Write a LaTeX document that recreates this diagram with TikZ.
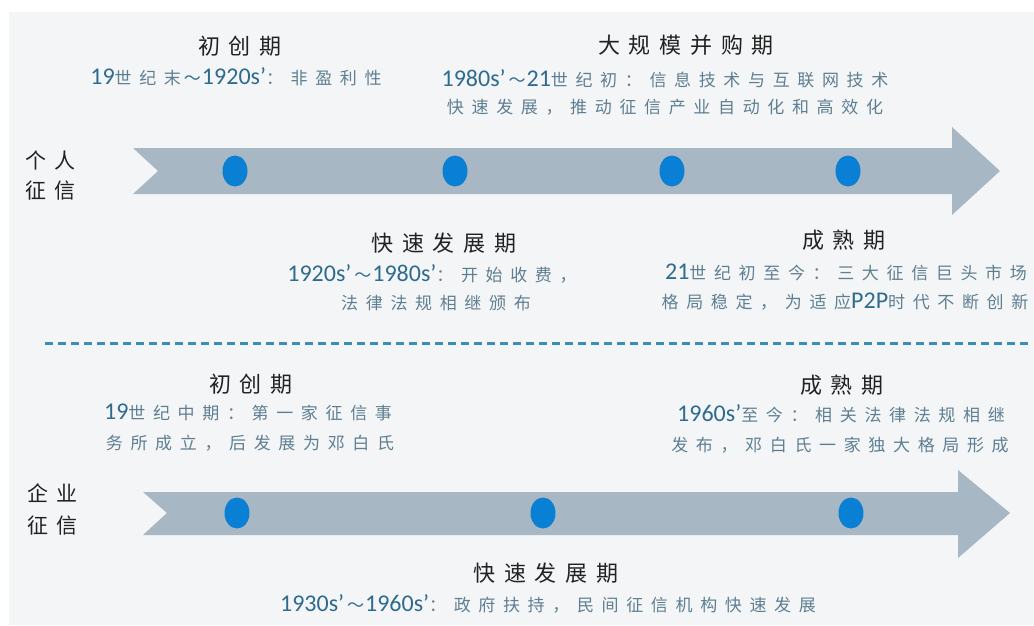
\documentclass[tikz,border=0pt]{standalone}
\usepackage{fontspec}
\usetikzlibrary{shapes.geometric}
\setmainfont{Carlito}
\newfontfamily\cjkbody[LetterSpace=45]{Noto Sans CJK SC}
\newfontfamily\cjktitle[LetterSpace=40]{Noto Sans CJK SC}
\definecolor{bgc}{HTML}{F4F5F6}
\definecolor{arrowc}{HTML}{A8B7C4}
\definecolor{dotc}{HTML}{0A80D4}
\definecolor{numc}{HTML}{2F6B8E}
\definecolor{txtc}{HTML}{5E7F92}
\definecolor{titc}{HTML}{222222}
\definecolor{dashc}{HTML}{3A8DB8}
\newcommand{\nm}[1]{{\fontsize{24}{24}\selectfont\rmfamily\color{numc}#1}}
\newcommand{\tl}{\kern3pt{\color{numc}～}\kern1pt}
\begin{document}
\begin{tikzpicture}[x=1pt,y=-1pt,
  bodytxt/.style={inner sep=0pt,text height=14pt,text depth=1pt,text=txtc,font=\fontsize{17}{20}\selectfont\cjkbody},
  titletxt/.style={inner sep=0pt,text height=17pt,text depth=0pt,text=titc,font=\fontsize{22}{24}\selectfont\cjktitle},
  sidetxt/.style={inner sep=0pt,anchor=west,text height=16pt,text depth=0pt,text=titc,font=\fontsize{21}{24}\selectfont\cjktitle},
  band/.style={fill=arrowc},
  dotnode/.style={ellipse,fill=dotc,minimum width=25pt,minimum height=31pt,inner sep=0pt},
  sepline/.style={dashc,line width=3pt,dash pattern=on 8pt off 5pt}]
\useasboundingbox (0,0) rectangle (1034,625);
\fill[white] (0,0) rectangle (1034,625);
\fill[bgc] (9,12) rectangle (1034,625);

% ---------- top arrow ----------
\fill[band] (133,148) -- (952,148) -- (952,127) -- (1000,171) -- (952,215) -- (952,194) -- (133,194) -- (158,171) -- cycle;
\node[dotnode] (t1) at (235,171) {};
\node[dotnode] (t2) at (455,171) {};
\node[dotnode] (t3) at (672,171) {};
\node[dotnode] (t4) at (848,171) {};

\node[sidetxt] (p1) at (25,160) {个人};
\node[sidetxt] (p2) at (25,190) {征信};

\node[titletxt] (a1) at (240,46) {初创期};
\node[bodytxt] (a2) at (236,78) {\nm{19}世纪末\tl\nm{1920s’}：非盈利性};

\node[titletxt] (b1) at (686,45) {大规模并购期};
\node[bodytxt] (b2) at (665,80) {\nm{1980s’}\tl\nm{21}世纪初：信息技术与互联网技术};
\node[bodytxt] (b3) at (665,107) {快速发展，推动征信产业自动化和高效化};

\node[titletxt] (c1) at (444,243) {快速发展期};
\node[bodytxt] (c2) at (432,275) {\nm{1920s’}\tl\nm{1980s’}：开始收费，};
\node[bodytxt] (c3) at (436,303) {法律法规相继颁布};

\node[titletxt] (d1) at (844,240) {成熟期};
\node[bodytxt] (d2) at (846,273) {\nm{21}世纪初至今：三大征信巨头市场};
\node[bodytxt] (d3) at (845,302) {格局稳定，为适应\nm{P2P}时代不断创新};

% ---------- separator ----------
\coordinate (s1) at (45,343);
\coordinate (s2) at (1030,343);
\draw[sepline] (s1) -- (s2);

% ---------- bottom arrow ----------
\fill[band] (143,492) -- (958,492) -- (958,470) -- (1010,513) -- (958,558) -- (958,535) -- (143,535) -- (167,513) -- cycle;
\node[dotnode] (u1) at (237,513) {};
\node[dotnode] (u2) at (543,513) {};
\node[dotnode] (u3) at (851,513) {};

\node[sidetxt] (q1) at (27,493) {企业};
\node[sidetxt] (q2) at (27,525) {征信};

\node[titletxt] (e1) at (251,384) {初创期};
\node[bodytxt] (e2) at (248,413) {\nm{19}世纪中期：第一家征信事};
\node[bodytxt] (e3) at (250,443) {务所成立，后发展为邓白氏};

\node[titletxt] (f1) at (842,385) {成熟期};
\node[bodytxt] (f2) at (841,415) {\nm{1960s’}至今：相关法律法规相继};
\node[bodytxt] (f3) at (840,445) {发布，邓白氏一家独大格局形成};

\node[titletxt] (g1) at (546,573) {快速发展期};
\node[bodytxt] (g2) at (548,605) {\nm{1930s’}\tl\nm{1960s’}：政府扶持，民间征信机构快速发展};
\end{tikzpicture}
\end{document}
